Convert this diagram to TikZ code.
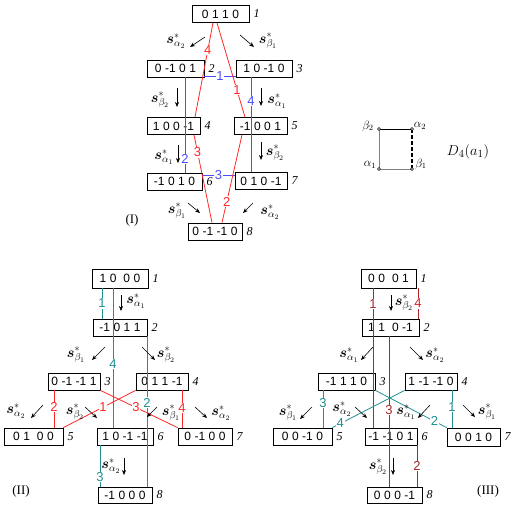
\documentclass[tikz,border=0pt]{standalone}
\usepackage{fontspec}
\usepackage{bm}
\newfontfamily\boxfont{Liberation Sans}
\newfontfamily\numfont{Liberation Serif}
\usetikzlibrary{arrows.meta}
\definecolor{cblue}{RGB}{75,75,255}
\definecolor{cred}{RGB}{255,40,40}
\definecolor{cteal}{RGB}{32,144,144}
\definecolor{cdred}{RGB}{170,40,40}
\newcommand\gp{\hspace{3.5pt}}
\newcommand\sst[1]{$\bm{s}^{*}_{#1}$}
\tikzset{
  bx/.style={draw, line width=0.8pt, minimum width=#1, minimum height=17, inner sep=0pt,
    font=\boxfont\fontsize{12}{12}\selectfont},
  num/.style={anchor=west, inner sep=0pt, font=\numfont\itshape\fontsize{12}{12}\selectfont},
  sl/.style={inner sep=0pt, font=\fontsize{14.5}{14.5}\selectfont},
  ar/.style={-{Stealth[length=5pt,width=4pt]}, line width=0.6pt},
  ll/.style={fill=white, inner sep=0.6pt, font=\boxfont\fontsize{13}{13}\selectfont},
  bl/.style={draw=cblue, line width=0.8pt},
  rd/.style={draw=cred, line width=0.8pt},
  tl/.style={draw=cteal, line width=0.8pt},
  dr/.style={draw=cdred, line width=0.8pt},
  romn/.style={inner sep=0pt, font=\numfont\fontsize{13}{13}\selectfont},
  dot/.style={circle, draw, fill=white, inner sep=0pt, minimum size=3pt, line width=0.5pt},
  gl/.style={inner sep=0pt, font=\fontsize{12}{12}\selectfont}
}
\begin{document}
\begin{tikzpicture}[x=1pt,y=-1pt]
\useasboundingbox (0,0) rectangle (516,512);

% ---------------- Diagram I ----------------
\node[bx=57] (i1) at (220.5,14) {0\gp1\gp1\gp0};
\node[bx=57] (i2) at (175.5,68.5) {0\gp-1\gp0\gp1};
\node[bx=56] (i3) at (264,68.5) {1\gp0\gp-1\gp0};
\node[bx=53] (i4) at (173.5,126) {1\gp0\gp0\gp-1};
\node[bx=53] (i5) at (260.5,126) {-1\gp0\gp0\gp1};
\node[bx=55] (i6) at (174.5,181.5) {-1\gp0\gp1\gp0};
\node[bx=52] (i7) at (261,181) {0\gp1\gp0\gp-1};
\node[bx=54] (i8) at (215,231.5) {0\gp-1\gp-1\gp0};
\foreach \n/\t in {i1/1,i2/2,i3/3,i4/4,i5/5,i6/6,i7/7,i8/8}
  \node[num] (\n n) at ([xshift=4pt]\n.east) {\t};

\draw[bl] (i2.east |- 0,76) -- (i3.west |- 0,76) node[midway, ll, text=cblue] (ib1) {1};
\draw[bl] (i2.south -| 185,0) -- (i6.north -| 185,0) node[pos=0.86, ll, text=cblue] (ib2) {2};
\draw[bl] (i3.south -| 251,0) -- (i7.north -| 251,0) node[pos=0.25, ll, text=cblue] (ib4) {4};
\draw[bl] (i6.east |- 0,175) -- (i7.west |- 0,175) node[midway, ll, text=cblue] (ib3) {3};

\draw[rd] (i1.south -| 213,0) -- (i4.north -| 195,0) node[pos=0.29, ll, text=cred] (ir4) {4};
\draw[rd] (i1.south -| 217,0) -- (i5.north -| 245,0) node[pos=0.71, ll, text=cred] (ir1) {1};
\draw[rd] (i4.south -| 194,0) -- (i8.north -| 212,0) node[pos=0.2, ll, text=cred] (ir3) {3};
\draw[rd] (i5.south -| 242,0) -- (i8.north -| 222,0) node[pos=0.76, ll, text=cred] (ir2) {2};

\draw[ar] (205,37) -- (190,47);  \node[sl] (is1) at (176,41) {\sst{\alpha_2}};
\draw[ar] (240,35) -- (254,47);  \node[sl] (is2) at (268,41) {\sst{\beta_1}};
\draw[ar] (177,88) -- (177,107); \node[sl] (is3) at (160,100) {\sst{\beta_2}};
\draw[ar] (261,88) -- (261,106); \node[sl] (is4) at (277,101) {\sst{\alpha_1}};
\draw[ar] (178,145) -- (178,163); \node[sl] (is5) at (164,157) {\sst{\alpha_1}};
\draw[ar] (261,142) -- (261,160); \node[sl] (is6) at (275,153) {\sst{\beta_2}};
\draw[ar] (188,203) -- (200,213); \node[sl] (is7) at (177,211) {\sst{\beta_1}};
\draw[ar] (253,203) -- (243,213); \node[sl] (is8) at (270,212) {\sst{\alpha_2}};
\node[romn] (rI) at (132,220) {(I)};

% ---------------- D4 diagram ----------------
\coordinate (cb2) at (379,129);
\coordinate (ca2) at (412,129);
\coordinate (ca1) at (379,169);
\coordinate (cb1) at (412,169);
\draw[line width=0.8pt] (cb2) -- (ca2);
\draw[gray, line width=0.8pt] (cb2) -- (ca1) -- (cb1);
\draw[dashed, line width=1.6pt, dash pattern=on 4pt off 2pt] (ca2) -- (cb1);
\foreach \c in {cb2,ca2,ca1,cb1} \node[dot] (d\c) at (\c) {};
\node[gl] (lb2) at (368,126) {$\beta_2$};
\node[gl] (la2) at (420,126) {$\alpha_2$};
\node[gl] (la1) at (370,165) {$\alpha_1$};
\node[gl] (lb1) at (421,164) {$\beta_1$};
\node[inner sep=0pt, font=\fontsize{15}{15}\selectfont] (dfour) at (468,152) {$D_4(a_1)$};

% ---------------- Diagram II ----------------
\node[bx=56, minimum height=19] (ii1) at (120,278.5) {1\gp0\gp\gp0\gp0};
\node[bx=54] (ii2) at (120,327.5) {-1\gp0\gp1\gp1};
\node[bx=52] (ii3) at (74,381.5) {0\gp-1\gp-1\gp1};
\node[bx=52] (ii4) at (162,381.5) {0\gp1\gp1\gp-1};
\node[bx=59] (ii5) at (33.5,436.5) {0\gp1\gp\gp0\gp0};
\node[bx=56] (ii6) at (125,436.5) {1\gp0\gp-1\gp-1};
\node[bx=54] (ii7) at (205,436.5) {0\gp-1\gp0\gp0};
\node[bx=54, minimum height=16] (ii8) at (125,495) {-1\gp0\gp0\gp0};
\foreach \n/\t in {ii1/1,ii2/2,ii3/3,ii4/4,ii5/5,ii6/6,ii7/7,ii8/8}
  \node[num] (\n n) at ([xshift=4pt]\n.east) {\t};

\draw[tl] (ii1.south -| 102,0) -- (ii2.north -| 102,0) node[midway, ll, text=cteal] (iit1) {1};
\draw[tl] (ii1.south -| 113,0) -- (ii6.north -| 113,0) node[pos=0.54, ll, text=cteal] (iit4) {4};
\draw[tl] (ii2.south -| 147,0) -- (ii8.north -| 147,0) node[pos=0.44, ll, text=cteal] (iit2) {2};
\draw[tl] (ii6.south -| 100,0) -- (ii8.north -| 100,0) node[pos=0.76, ll, text=cteal] (iit3) {3};

\draw[rd] (ii3.south -| 54,0) -- (ii5.north -| 54,0) node[pos=0.45, ll, text=cred] (iir2) {2};
\draw[rd] (ii4.south -| 182,0) -- (ii7.north -| 182,0) node[pos=0.47, ll, text=cred] (iir4) {4};
\draw[rd] (ii5.north east) -- (ii4.south west) node[pos=0.55, ll, text=cred] (iir1) {1};
\draw[rd] (ii3.south east) -- (ii7.north west) node[pos=0.46, ll, text=cred] (iir3) {3};

\draw[ar] (121,295) -- (121,311); \node[sl] (iis1) at (136,301) {\sst{\alpha_1}};
\draw[ar] (105,347) -- (92,360);  \node[sl] (iis2) at (76,355) {\sst{\beta_1}};
\draw[ar] (142,347) -- (155,360); \node[sl] (iis3) at (166,355) {\sst{\beta_2}};
\draw[ar] (43,405) -- (31,418);   \node[sl] (iis4) at (16,411) {\sst{\alpha_2}};
\draw[ar] (85,407) -- (97,418);   \node[sl] (iis5) at (75,412) {\sst{\beta_2}};
\draw[ar] (157,407) -- (147,417); \node[sl] (iis6) at (171,413) {\sst{\beta_1}};
\draw[ar] (195,407) -- (207,418); \node[sl] (iis7) at (221,413) {\sst{\alpha_2}};
\draw[ar] (124,458) -- (124,475); \node[sl] (iis8) at (111,466) {\sst{\alpha_2}};
\node[romn] (rII) at (21,491) {(II)};

% ---------------- Diagram III ----------------
\node[bx=55, minimum height=19] (iii1) at (388.5,278.5) {0\gp0\gp\gp0\gp1};
\node[bx=57] (iii2) at (390.5,327.5) {1\gp1\gp\gp0\gp-1};
\node[bx=57] (iii3) at (346.5,381.5) {-1\gp1\gp1\gp0};
\node[bx=52] (iii4) at (431,381.5) {1\gp-1\gp-1\gp0};
\node[bx=59] (iii5) at (302.5,436.5) {0\gp0\gp-1\gp0};
\node[bx=52] (iii6) at (391,436.5) {-1\gp-1\gp0\gp1};
\node[bx=53, minimum height=18] (iii7) at (473.5,437) {0\gp0\gp1\gp0};
\node[bx=55, minimum height=16] (iii8) at (394.5,495) {0\gp0\gp0\gp-1};
\foreach \n/\t in {iii1/1,iii2/2,iii3/3,iii4/4,iii5/5,iii6/6,iii7/7,iii8/8}
  \node[num] (\n n) at ([xshift=4pt]\n.east) {\t};

\draw[dr] (iii1.south -| 373,0) -- (iii6.north -| 373,0) node[pos=0.11, ll, text=cdred] (iiid1) {1};
\draw[dr] (iii1.south -| 418,0) -- (iii2.north -| 418,0) node[midway, ll, text=cred!85!black] (iiid4) {4};
\draw[dr] (iii2.south -| 389,0) -- (iii8.north -| 389,0) node[pos=0.49, ll, text=cdred] (iiid3) {3};
\draw[dr] (iii6.south -| 417,0) -- (iii8.north -| 417,0) node[midway, ll, text=cdred] (iiid2) {2};

\draw[tl] (iii3.south -| 323,0) -- (iii5.north -| 323,0) node[pos=0.34, ll, text=cteal] (iiit3) {3};
\draw[tl] (iii4.south -| 452,0) -- (iii7.north -| 452,0) node[pos=0.45, ll, text=cteal] (iiit1) {1};
\draw[tl] (iii5.north east) -- (iii4.south west) node[pos=0.11, ll, text=cteal] (iiit4) {4};
\draw[tl] (iii3.south east) -- (iii7.north west) node[pos=0.83, ll, text=cteal] (iiit2) {2};

\draw[ar] (391,295) -- (391,311); \node[sl] (iiis1) at (404,303) {\sst{\beta_2}};
\draw[ar] (373,347) -- (361,360); \node[sl] (iiis2) at (349,355) {\sst{\alpha_1}};
\draw[ar] (410,347) -- (423,360); \node[sl] (iiis3) at (435,355) {\sst{\alpha_2}};
\draw[ar] (312,407) -- (300,419); \node[sl] (iiis4) at (288,413) {\sst{\beta_1}};
\draw[ar] (355,407) -- (367,418); \node[sl] (iiis5) at (342,409) {\sst{\alpha_2}};
\draw[ar] (430,405) -- (418,418); \node[sl] (iiis6) at (406,412) {\sst{\alpha_1}};
\draw[ar] (463,405) -- (475,417); \node[sl] (iiis7) at (487,412) {\sst{\beta_1}};
\draw[ar] (393,458) -- (393,475); \node[sl] (iiis8) at (378,467) {\sst{\beta_2}};
\node[romn] (rIII) at (488,491) {(III)};
\end{tikzpicture}
\end{document}
